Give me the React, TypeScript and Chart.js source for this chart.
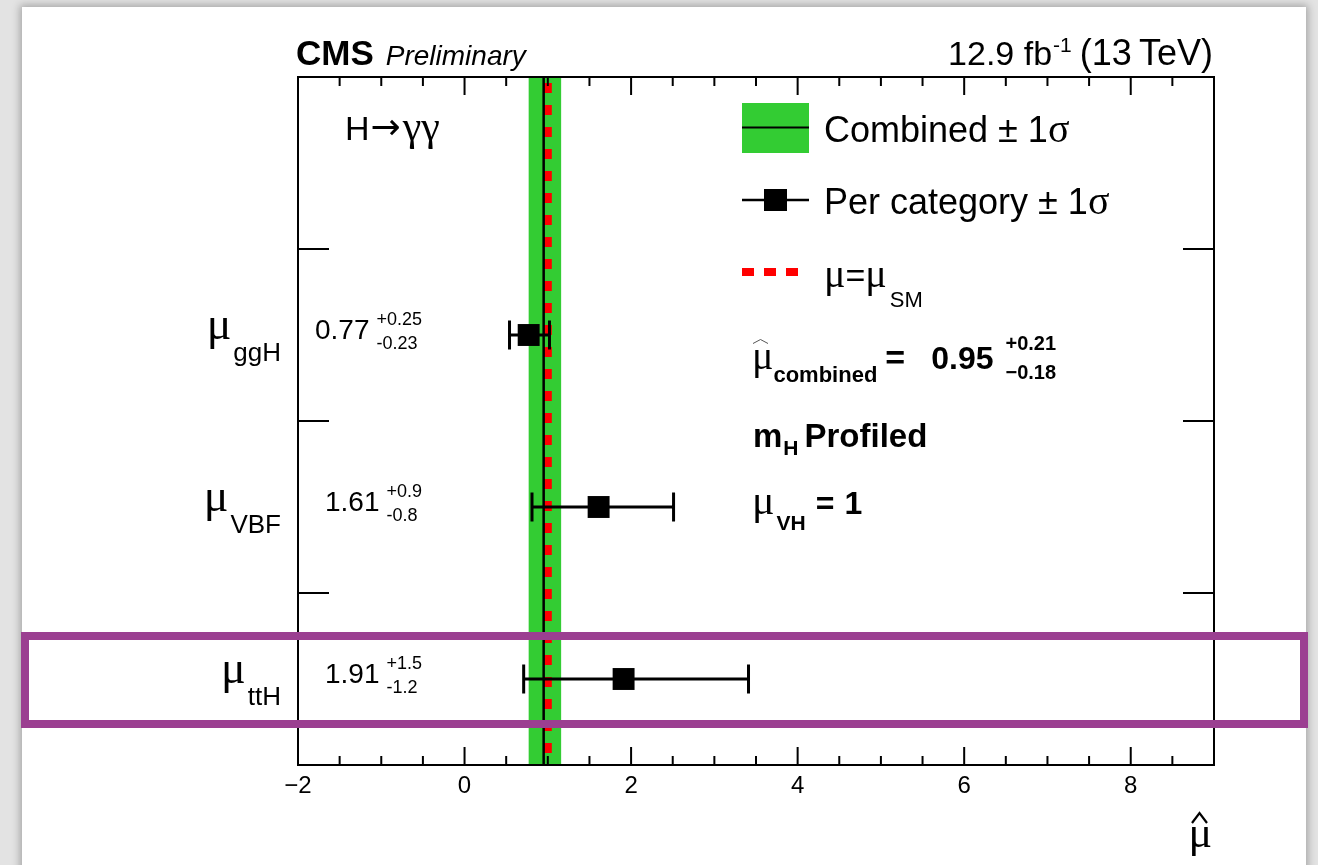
import React, { useEffect, useRef } from 'react';
import { Chart, registerables } from 'chart.js';

Chart.register(...registerables);

// ---- data ----
const categories = ['ggH', 'VBF', 'ttH'];
const muValues = [0.77, 1.61, 1.91];
const errUp = [0.25, 0.9, 1.5];
const errDown = [0.23, 0.8, 1.2];
const categoryY = [2.5, 1.5, 0.5];
const dividerY = [1, 2, 3];
const combinedMu = 0.95;
const combinedUp = 0.21;
const combinedDown = 0.18;
const smMu = 1;
const xMajorTicks = [-2, 0, 2, 4, 6, 8];
const xMinorStep = 0.5;
const xRange = [-2, 9];
const yRange = [0, 4];

const SANS = '"Liberation Sans", Arial, Helvetica, sans-serif';
const GREEK = '"Liberation Serif", "DejaVu Serif", serif';
const ARROW = '"DejaVu Sans", sans-serif';
const GREEN = '#33cc33';
const RED = '#ff0000';

type Run = { t?: string; f: string; dy?: number; dx?: number; top?: string; bot?: string; dyTop?: number; dyBot?: number };

function runWidth(ctx: CanvasRenderingContext2D, r: Run) {
  ctx.font = r.f;
  let w: number;
  if (r.top !== undefined) {
    w = Math.max(ctx.measureText(r.top).width, ctx.measureText(r.bot || '').width);
  } else {
    w = ctx.measureText(r.t || '').width;
  }
  return w + (r.dx || 0);
}

function drawRuns(ctx: CanvasRenderingContext2D, x: number, y: number, runs: Run[], align: 'left' | 'right' | 'center' = 'left') {
  const widths = runs.map((r) => runWidth(ctx, r));
  const total = widths.reduce((a, b) => a + b, 0);
  let cx = align === 'left' ? x : align === 'right' ? x - total : x - total / 2;
  ctx.textAlign = 'left';
  ctx.textBaseline = 'alphabetic';
  runs.forEach((r, i) => {
    ctx.font = r.f;
    const sx = cx + (r.dx || 0);
    if (r.top !== undefined) {
      ctx.fillText(r.top, sx, y + (r.dyTop || 0));
      ctx.fillText(r.bot || '', sx, y + (r.dyBot || 0));
    } else {
      ctx.fillText(r.t || '', sx, y + (r.dy || 0));
    }
    cx += widths[i];
  });
}

function fmtTick(v: number) {
  return v < 0 ? '\u2212' + Math.abs(v) : String(v);
}

const overlayPlugin = {
  id: 'cmsOverlay',
  beforeDatasetsDraw(chart: any) {
    const { ctx, chartArea: a, scales } = chart;
    const xs = scales.x;
    const x1 = xs.getPixelForValue(combinedMu - combinedDown);
    const x2 = xs.getPixelForValue(combinedMu + combinedUp);
    ctx.save();
    ctx.fillStyle = GREEN;
    ctx.fillRect(x1, a.top, x2 - x1, a.bottom - a.top);
    ctx.restore();
  },
  afterDatasetsDraw(chart: any) {
    const { ctx, scales } = chart;
    const xs = scales.x;
    const ys = scales.y;
    ctx.save();
    ctx.strokeStyle = '#000';
    ctx.lineWidth = 3;
    ctx.lineCap = 'butt';
    categories.forEach((_, i) => {
      const lo = xs.getPixelForValue(muValues[i] - errDown[i]);
      const hi = xs.getPixelForValue(muValues[i] + errUp[i]);
      const py = ys.getPixelForValue(categoryY[i]);
      ctx.beginPath();
      ctx.moveTo(lo, py);
      ctx.lineTo(hi, py);
      ctx.moveTo(lo, py - 14.5);
      ctx.lineTo(lo, py + 14.5);
      ctx.moveTo(hi, py - 14.5);
      ctx.lineTo(hi, py + 14.5);
      ctx.stroke();
    });
    ctx.restore();
  },
  afterDraw(chart: any) {
    const { ctx, chartArea: a, scales } = chart;
    const xs = scales.x;
    const ys = scales.y;
    ctx.save();
    ctx.fillStyle = '#000';
    ctx.strokeStyle = '#000';

    // frame
    ctx.lineWidth = 2;
    ctx.strokeRect(a.left, a.top, a.right - a.left, a.bottom - a.top);

    // x ticks (bottom and top, pointing inward)
    ctx.beginPath();
    const nSteps = Math.round((xRange[1] - xRange[0]) / xMinorStep);
    for (let k = 1; k < nSteps; k++) {
      const v = xRange[0] + k * xMinorStep;
      const px = xs.getPixelForValue(v);
      const len = xMajorTicks.includes(v) ? 18 : 9;
      ctx.moveTo(px, a.bottom);
      ctx.lineTo(px, a.bottom - len);
      ctx.moveTo(px, a.top);
      ctx.lineTo(px, a.top + len);
    }
    // y ticks (dividers)
    dividerY.forEach((v) => {
      const py = ys.getPixelForValue(v);
      ctx.moveTo(a.left, py);
      ctx.lineTo(a.left + 31, py);
      ctx.moveTo(a.right, py);
      ctx.lineTo(a.right - 31, py);
    });
    ctx.stroke();

    // x tick labels
    ctx.font = `24px ${SANS}`;
    ctx.textAlign = 'center';
    ctx.textBaseline = 'alphabetic';
    xMajorTicks.forEach((v) => {
      ctx.fillText(fmtTick(v), xs.getPixelForValue(v), a.bottom + 28);
    });

    // x axis title: mu hat
    ctx.font = `44px ${GREEK}`;
    ctx.textAlign = 'right';
    ctx.fillText('\u03bc', 1212, 847);
    ctx.lineWidth = 2.2;
    ctx.beginPath();
    ctx.moveTo(1192, 823);
    ctx.lineTo(1199.5, 813);
    ctx.lineTo(1207, 823);
    ctx.stroke();

    // category labels
    categories.forEach((c, i) => {
      const py = ys.getPixelForValue(categoryY[i]);
      drawRuns(ctx, 281, py + 4, [
        { t: '\u03bc', f: `46px ${GREEK}` },
        { t: c, f: `26px ${SANS}`, dy: 22, dx: 2 },
      ], 'right');
      drawRuns(ctx, 422, py + 4, [
        { t: muValues[i].toFixed(2), f: `28px ${SANS}` },
        { top: '+' + errUp[i], bot: '-' + errDown[i], f: `18px ${SANS}`, dyTop: -14, dyBot: 10, dx: 7 },
      ], 'right');
    });

    // Title
    drawRuns(ctx, 296, 65, [
      { t: 'CMS', f: `bold 35px ${SANS}` },
      { t: 'Preliminary', f: `italic 28px ${SANS}`, dx: 12 },
    ]);
    drawRuns(ctx, 1213, 65, [
      { t: '12.9 fb', f: `34px ${SANS}` },
      { t: '-1', f: `21px ${SANS}`, dy: -13, dx: 1 },
      { t: '(13\u2009TeV)', f: `36px ${SANS}`, dx: 8 },
    ], 'right');

    // H -> gamma gamma
    drawRuns(ctx, 345, 140, [
      { t: 'H', f: `34px ${SANS}` },
      { t: '\u2192', f: `36px ${ARROW}`, dy: -1, dx: 1 },
      { t: '\u03b3\u03b3', f: `42px ${GREEK}`, dx: 2 },
    ]);

    // Legend
    ctx.fillStyle = GREEN;
    ctx.fillRect(742, 103, 67, 50);
    ctx.strokeStyle = '#000';
    ctx.lineWidth = 2;
    ctx.beginPath();
    ctx.moveTo(742, 127.5);
    ctx.lineTo(809, 127.5);
    ctx.stroke();
    ctx.fillStyle = '#000';
    drawRuns(ctx, 824, 142, [
      { t: 'Combined \u00b1 1', f: `36px ${SANS}` },
      { t: '\u03c3', f: `40px ${GREEK}` },
    ]);

    ctx.lineWidth = 2.5;
    ctx.beginPath();
    ctx.moveTo(742, 200);
    ctx.lineTo(809, 200);
    ctx.stroke();
    ctx.fillRect(764, 189, 23, 22);
    drawRuns(ctx, 824, 214, [
      { t: 'Per category \u00b1 1', f: `36px ${SANS}` },
      { t: '\u03c3', f: `40px ${GREEK}` },
    ]);

    ctx.save();
    ctx.strokeStyle = RED;
    ctx.lineWidth = 8;
    ctx.setLineDash([12, 10]);
    ctx.beginPath();
    ctx.moveTo(742, 272);
    ctx.lineTo(798, 272);
    ctx.stroke();
    ctx.restore();
    drawRuns(ctx, 824, 287, [
      { t: '\u03bc', f: `40px ${GREEK}` },
      { t: '=', f: `34px ${SANS}` },
      { t: '\u03bc', f: `40px ${GREEK}` },
      { t: 'SM', f: `22px ${SANS}`, dy: 20, dx: 3 },
    ]);

    // combined result
    drawRuns(ctx, 752, 369, [
      { t: '\u03bc', f: `40px ${GREEK}` },
      { t: 'combined', f: `bold 22px ${SANS}`, dy: 13, dx: 0 },
      { t: '=', f: `bold 34px ${SANS}`, dx: 8 },
      { t: '0.95', f: `bold 32px ${SANS}`, dx: 26 },
      { top: '+' + combinedUp.toFixed(2), bot: '\u2212' + combinedDown.toFixed(2), f: `bold 20px ${SANS}`, dyTop: -19, dyBot: 10, dx: 12 },
    ]);
    ctx.strokeStyle = '#555';
    ctx.lineWidth = 1;
    ctx.beginPath();
    ctx.moveTo(753, 343.5);
    ctx.lineTo(760.5, 339.5);
    ctx.lineTo(768, 343.5);
    ctx.stroke();

    drawRuns(ctx, 753, 447, [
      { t: 'm', f: `bold 33px ${SANS}` },
      { t: 'H', f: `bold 21px ${SANS}`, dy: 8, dx: 1 },
      { t: 'Profiled', f: `bold 33px ${SANS}`, dx: 6 },
    ]);

    drawRuns(ctx, 752, 514, [
      { t: '\u03bc', f: `42px ${GREEK}` },
      { t: 'VH', f: `bold 21px ${SANS}`, dy: 16, dx: 2 },
      { t: '=', f: `bold 32px ${SANS}`, dx: 10 },
      { t: '1', f: `bold 32px ${SANS}`, dx: 10 },
    ]);

    ctx.restore();
  },
};

export default function App() {
  const canvasRef = useRef<HTMLCanvasElement | null>(null);

  useEffect(() => {
    const canvas = canvasRef.current;
    if (!canvas) return;
    const pointData = categories.map((_, i) => ({ x: muValues[i], y: categoryY[i] }));
    const chart = new Chart(canvas, {
      type: 'scatter',
      data: {
        datasets: [
          {
            label: 'Combined',
            data: [{ x: combinedMu, y: yRange[1] }, { x: combinedMu, y: yRange[0] }],
            showLine: true,
            borderColor: '#000',
            borderWidth: 2.5,
            pointRadius: 0,
          },
          {
            label: 'SM',
            data: [{ x: smMu, y: yRange[1] }, { x: smMu, y: yRange[0] }],
            showLine: true,
            borderColor: RED,
            borderWidth: 8,
            borderDash: [10, 12],
            borderDashOffset: 16,
            borderCapStyle: 'butt',
            pointRadius: 0,
          },
          {
            label: 'Per category',
            data: pointData,
            pointStyle: 'rect',
            pointRadius: 15.5,
            backgroundColor: '#000',
            borderWidth: 0,
          },
        ],
      } as any,
      options: {
        responsive: false,
        animation: false,
        events: [],
        layout: { padding: { left: 298, top: 77, right: 104, bottom: 100 } },
        plugins: { legend: { display: false }, tooltip: { enabled: false } },
        scales: {
          x: { type: 'linear', min: xRange[0], max: xRange[1], display: false },
          y: { type: 'linear', min: yRange[0], max: yRange[1], display: false },
        },
      },
      plugins: [overlayPlugin],
    });
    return () => chart.destroy();
  }, []);

  return (
    <div style={{ position: 'fixed', left: 0, top: 0, width: 1318, height: 865, background: '#e3e3e3', overflow: 'hidden' }}>
      <div
        style={{
          position: 'absolute',
          left: 22,
          top: 7,
          width: 1284,
          height: 900,
          background: '#fff',
          boxShadow: '0 0 8px 2px rgba(0,0,0,0.28)',
        }}
      />
      <canvas
        ref={canvasRef}
        width={1318}
        height={865}
        style={{ position: 'absolute', left: 0, top: 0, width: 1318, height: 865 }}
      />
      <div
        style={{
          position: 'absolute',
          left: 21,
          top: 632,
          width: 1287,
          height: 96,
          border: '8px solid #9b3f91',
          boxSizing: 'border-box',
        }}
      />
    </div>
  );
}
